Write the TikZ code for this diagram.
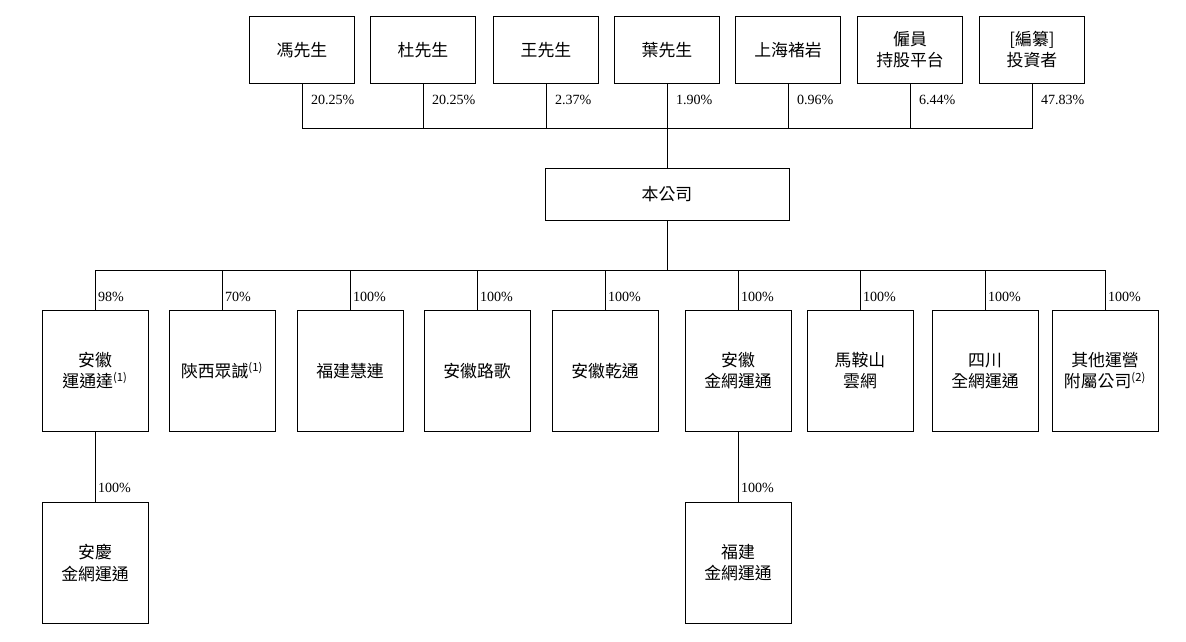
\documentclass[tikz,border=0pt]{standalone}
\usepackage{fontspec}
\setmainfont{Liberation Serif}
\newfontfamily\cjk{Noto Sans CJK TC}
\begin{document}
\begin{tikzpicture}[x=0.025cm, y=-0.025cm]
    \tikzstyle{every node} = [align=center, font=\cjk\fontsize{12}{15}\selectfont]
    \tikzstyle{holder} = [draw, minimum width=2.63cm, minimum height=1.68cm, inner sep=1pt]
    \tikzstyle{company} = [draw, minimum width=6.1cm, minimum height=1.3cm]
    \tikzstyle{subco} = [draw, minimum width=2.65cm, minimum height=3.03cm, inner sep=1pt]
    \tikzstyle{pct} = [font=\rmfamily\fontsize{10}{12}\selectfont, inner sep=2pt]
    \useasboundingbox (0,0) rectangle (1186,642);
    % shareholders
    \foreach \n/\x/\t/\p in {s1/302/馮先生/20.25, s2/423/杜先生/20.25, s3/546/王先生/2.37,
        s4/667/葉先生/1.90, s5/788/上海褚岩/0.96, s6/910/僱員\\持股平台/6.44,
        s7/1032/[編纂]\\投資者/47.83} {
        \node [holder] (\n) at (\x,50) {\t};
        \draw (\n.south) |- (667,128) node [pct, pos=0.18, anchor=west, xshift=0.15cm] {\p\%};
    }
    \node [company] (co) at (667,194) {本公司};
    \coordinate (jt) at (667,128);
    \coordinate (jb) at (667,270);
    \draw (jt) -- (co.north);
    \draw (co.south) -- (jb);
    % subsidiaries
    \foreach \n/\x/\t/\p in {c1/95/安徽\\運通達\textsuperscript{(1)}/98, c2/222/陝西眾誠\textsuperscript{(1)}/70,
        c3/350/福建慧連/100, c4/477/安徽路歌/100, c5/605/安徽乾通/100,
        c6/738/安徽\\金網運通/100, c7/860/馬鞍山\\雲網/100, c8/985/四川\\全網運通/100,
        c9/1105/其他運營\\附屬公司\textsuperscript{(2)}/100} {
        \node [subco] (\n) at (\x,371) {\t};
        \draw (jb) -| (\n.north) node [pct, pos=0.83, anchor=west] {\p\%};
    }
    \node [subco] (d1) at (95,563) {安慶\\金網運通};
    \node [subco] (d2) at (738,563) {福建\\金網運通};
    \draw (c1.south) -- (d1.north) node [pct, pos=0.8, anchor=west] {100\%};
    \draw (c6.south) -- (d2.north) node [pct, pos=0.8, anchor=west] {100\%};
\end{tikzpicture}
\end{document}
